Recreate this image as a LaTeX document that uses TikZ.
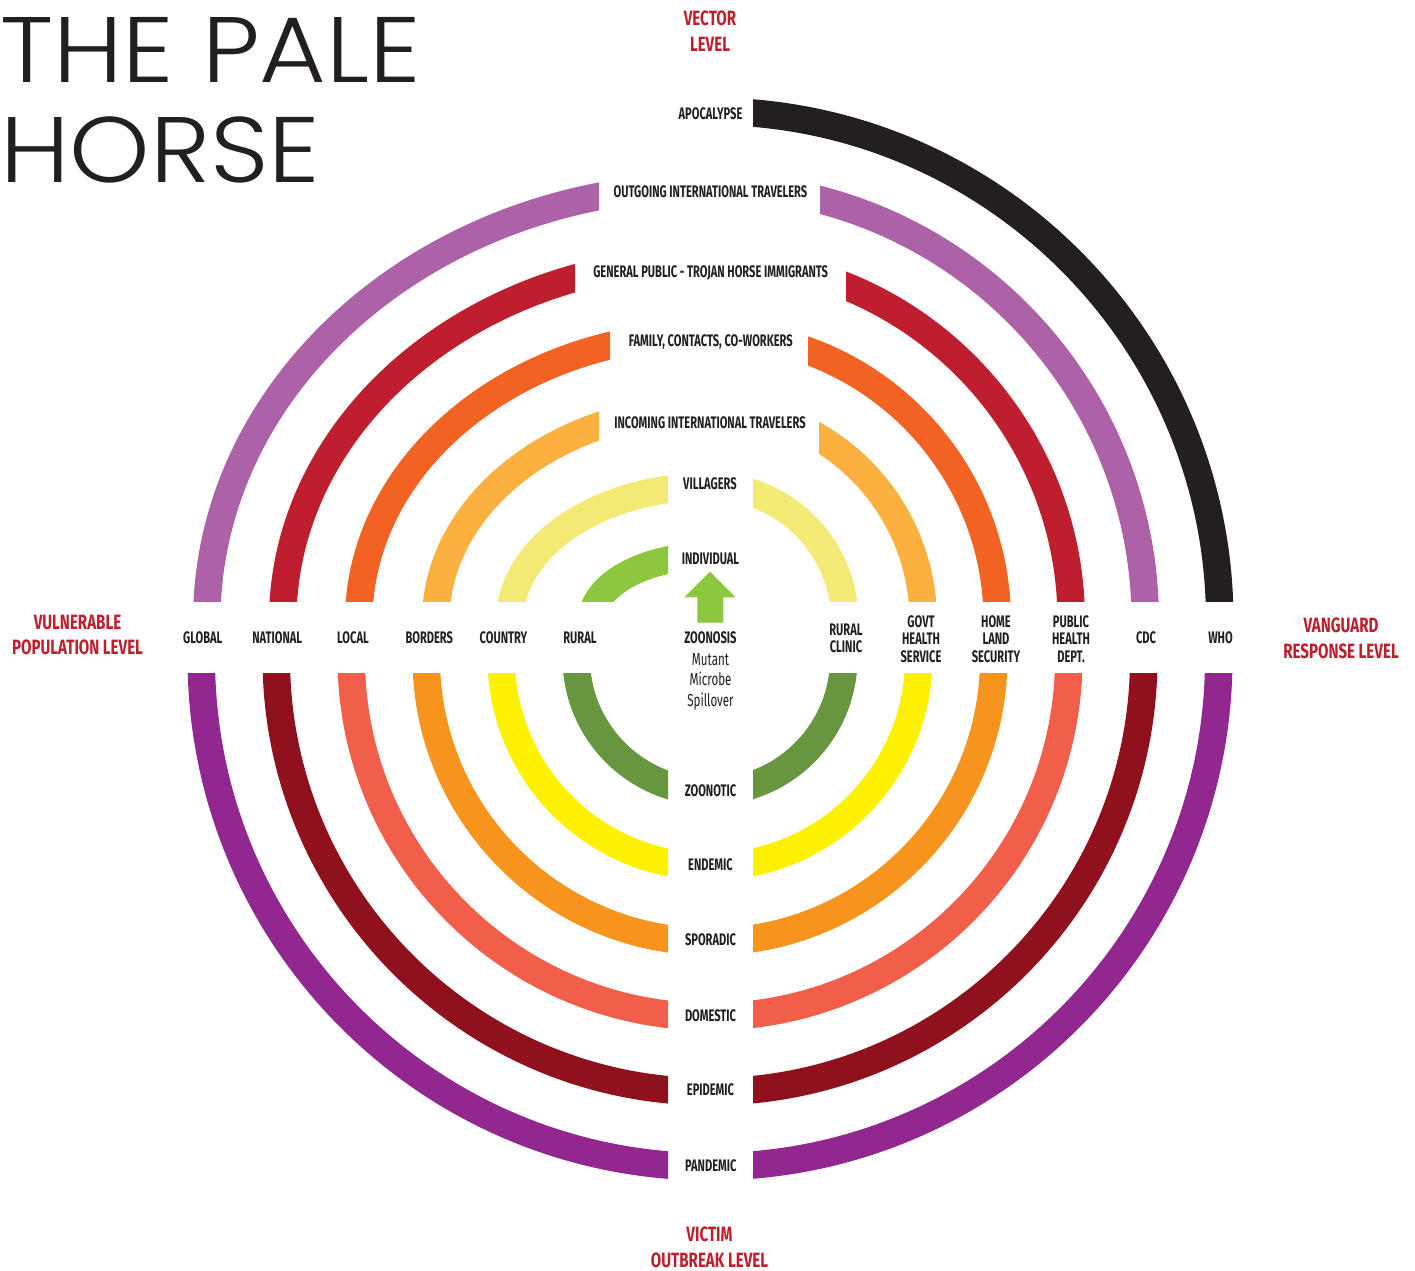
\documentclass[tikz,border=0pt]{standalone}
\usepackage{fontspec}
\newfontfamily\labfont[FakeStretch=0.665]{Fira Sans}
\newfontfamily\redfont[FakeStretch=0.73]{Fira Sans}
\newfontfamily\titlefont[FakeStretch=1.1]{Poppins Light}
\definecolor{inkblack}{HTML}{231F20}
\definecolor{lvlred}{HTML}{BE1E2D}
\definecolor{cblack}{HTML}{231F20}
\definecolor{clpurple}{HTML}{AD62A8}
\definecolor{cred}{HTML}{BE1E2D}
\definecolor{corange}{HTML}{F26222}
\definecolor{clorange}{HTML}{FBB040}
\definecolor{cpyellow}{HTML}{F4EB77}
\definecolor{clgreen}{HTML}{8DC63F}
\definecolor{cpurple}{HTML}{92278F}
\definecolor{cmaroon}{HTML}{8E111D}
\definecolor{ccoral}{HTML}{F15E4A}
\definecolor{corangeb}{HTML}{F7941E}
\definecolor{cyellow}{HTML}{FFF200}
\definecolor{cdgreen}{HTML}{689540}
\newcommand{\ringpiece}[6]{%
  \begin{scope}
    \clip #5 rectangle #6;
    \draw[ringline, #1] (710,#4) ellipse [x radius=#2, y radius=#3];
  \end{scope}}
\begin{document}
\begin{tikzpicture}[x=1pt,y=-1pt,
  ringline/.style={line width=27.5},
  lab/.style={font={\labfont\bfseries\fontsize{16.7}{17.6}\selectfont}, text=inkblack, inner sep=0, align=center},
  thinlab/.style={font={\labfont\fontsize{17.4}{20.6}\selectfont}, text=inkblack, inner sep=0, align=center},
  redlab/.style={font={\redfont\bfseries\fontsize{20.7}{25.3}\selectfont}, text=lvlred, inner sep=0, align=center},
  titlelab/.style={font={\titlefont\fontsize{93}{100}\selectfont}, text=inkblack, inner sep=0}]
\useasboundingbox (0,0) rectangle (1415,1270);

% ---- top left pieces (centre 710,621)
\ringpiece{clpurple}{503.25}{435.25}{621}{(0,0)}{(599,601)}
\ringpiece{cred}{427.25}{361.25}{621}{(0,0)}{(575,601)}
\ringpiece{corange}{351.25}{287.25}{621}{(0,0)}{(610,601)}
\ringpiece{clorange}{274.25}{213.25}{621}{(0,0)}{(599,601)}
\ringpiece{cpyellow}{200.25}{134.75}{621}{(0,0)}{(668,601)}
\ringpiece{clgreen}{118.25}{65.25}{621}{(0,0)}{(668,601)}
% ---- top right pieces
\ringpiece{cblack}{509.75}{509.75}{621}{(753,0)}{(1415,601)}
\ringpiece{clpurple}{435.25}{435.25}{621}{(820,0)}{(1415,601)}
\ringpiece{cred}{361.25}{361.25}{621}{(846,0)}{(1415,601)}
\ringpiece{corange}{287.25}{287.25}{621}{(808,0)}{(1415,601)}
\ringpiece{clorange}{213.25}{213.25}{621}{(819,0)}{(1415,601)}
\ringpiece{cpyellow}{134.75}{134.75}{621}{(753,0)}{(1415,601)}
% ---- bottom pieces (centre 710,658)
\ringpiece{cpurple}{508.75}{508.75}{658}{(0,673)}{(668,1270)}
\ringpiece{cmaroon}{433.75}{433.75}{658}{(0,673)}{(668,1270)}
\ringpiece{ccoral}{358.75}{358.75}{658}{(0,673)}{(668,1270)}
\ringpiece{corangeb}{283.75}{283.75}{658}{(0,673)}{(668,1270)}
\ringpiece{cyellow}{208.75}{208.75}{658}{(0,673)}{(668,1270)}
\ringpiece{cdgreen}{133.75}{133.75}{658}{(0,673)}{(668,1270)}
\ringpiece{cpurple}{508.75}{508.75}{658}{(753,673)}{(1415,1270)}
\ringpiece{cmaroon}{433.75}{433.75}{658}{(753,673)}{(1415,1270)}
\ringpiece{ccoral}{358.75}{358.75}{658}{(753,673)}{(1415,1270)}
\ringpiece{corangeb}{283.75}{283.75}{658}{(753,673)}{(1415,1270)}
\ringpiece{cyellow}{208.75}{208.75}{658}{(753,673)}{(1415,1270)}
\ringpiece{cdgreen}{133.75}{133.75}{658}{(753,673)}{(1415,1270)}

% ---- arrow
\fill[clgreen] (710,571.7) -- (735.7,597.3) -- (723.3,597.3) -- (723.3,622.7)
  -- (697.3,622.7) -- (697.3,597.3) -- (684.3,597.3) -- cycle;

% ---- title
\node[titlelab, anchor=base west] (t1) at (0,82) {THE PALE};
\node[titlelab, anchor=base west] (t2) at (0,182) {HORSE};

% ---- red level labels
\node[redlab, anchor=north] (vec) at (710,11) {VECTOR\\LEVEL};
\node[redlab, anchor=north] (vul) at (77.5,615) {VULNERABLE\\POPULATION LEVEL};
\node[redlab, anchor=north] (van) at (1341,618) {VANGUARD\\RESPONSE LEVEL};
\node[redlab, anchor=north] (vic) at (709.5,1227) {VICTIM\\OUTBREAK LEVEL};

% ---- top ring labels
\node[lab, anchor=base] (apo) at (710.5,119) {APOCALYPSE};
\node[lab, anchor=base] (out) at (710.5,197.3) {OUTGOING INTERNATIONAL TRAVELERS};
\node[lab, anchor=base] (gen) at (710.7,277.3) {GENERAL PUBLIC - TROJAN HORSE IMMIGRANTS};
\node[lab, anchor=base] (fam) at (710.8,346.5) {FAMILY, CONTACTS, CO-WORKERS};
\node[lab, anchor=base] (inc) at (710,428.3) {INCOMING INTERNATIONAL TRAVELERS};
\node[lab, anchor=base] (vil) at (710,489.7) {VILLAGERS};
\node[lab, anchor=base] (ind) at (710.5,564.3) {INDIVIDUAL};

% ---- horizontal axis labels
\node[lab, anchor=base] (glo) at (202.8,643.7) {GLOBAL};
\node[lab, anchor=base] (nat) at (277.2,643.7) {NATIONAL};
\node[lab, anchor=base] (loc) at (353,643.7) {LOCAL};
\node[lab, anchor=base] (bor) at (429.3,643.7) {BORDERS};
\node[lab, anchor=base] (cou) at (503.5,643.7) {COUNTRY};
\node[lab, anchor=base] (rur) at (580,643.7) {RURAL};
\node[lab, anchor=base] (zoo) at (710.5,643.7) {ZOONOSIS};
\node[thinlab, anchor=north] (mut) at (710.5,653) {Mutant\\Microbe\\Spillover};
\node[lab, anchor=north] (rcl) at (846,623.3) {RURAL\\CLINIC};
\node[lab, anchor=north] (gov) at (921,615) {GOVT\\HEALTH\\SERVICE};
\node[lab, anchor=north] (hom) at (996,615) {HOME\\LAND\\SECURITY};
\node[lab, anchor=north] (pub) at (1071,615) {PUBLIC\\HEALTH\\DEPT.};
\node[lab, anchor=base] (cdc) at (1146,643.7) {CDC};
\node[lab, anchor=base] (who) at (1220.5,643.7) {WHO};

% ---- bottom ring labels
\node[lab, anchor=base] (zoot) at (710.5,796.7) {ZOONOTIC};
\node[lab, anchor=base] (end) at (710.5,870.7) {ENDEMIC};
\node[lab, anchor=base] (spo) at (710.5,945.7) {SPORADIC};
\node[lab, anchor=base] (dom) at (710.5,1021.7) {DOMESTIC};
\node[lab, anchor=base] (epi) at (710.5,1095.7) {EPIDEMIC};
\node[lab, anchor=base] (pan) at (710.8,1171.7) {PANDEMIC};
\end{tikzpicture}
\end{document}
